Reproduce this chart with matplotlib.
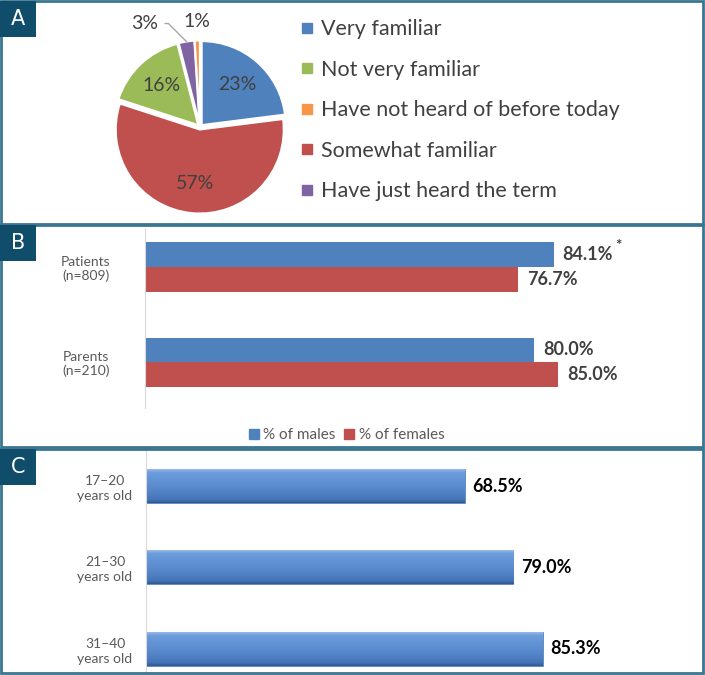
import matplotlib
matplotlib.use("Agg")
import matplotlib.pyplot as plt
import numpy as np
from matplotlib.patches import Rectangle
from matplotlib.lines import Line2D
from matplotlib.colors import LinearSegmentedColormap

plt.rcParams['font.family'] = ['Lato', 'DejaVu Sans']

# panel A: familiarity with the term (pie, clockwise from 12 o'clock)
pie_labels = ["Very familiar", "Somewhat familiar", "Not very familiar",
              "Have just heard the term", "Have not heard of before today"]
pie_values = [23, 57, 16, 3, 1]
pie_colors = ["#4f81bd", "#c0504d", "#9bbb59", "#8064a2", "#f79646"]
legend_order = [0, 2, 4, 1, 3]

# panel B: by sex
groups = ["Patients\n(n=809)", "Parents\n(n=210)"]
males = [84.1, 80.0]
females = [76.7, 85.0]
male_marks = ["*", ""]

# panel C: by age
age_groups = ["17–20\nyears old", "21–30\nyears old", "31–40\nyears old"]
age_values = [68.5, 79.0, 85.3]

W, H = 705, 675
GRAY = "#595959"
DARK = "#404040"
FRAME = "#3a7592"
TAB = "#104d6b"


def box(x, y, w, h):
    # pixel box (top-left origin) -> figure fraction
    return [x / W, 1 - (y + h) / H, w / W, h / H]


fig = plt.figure(figsize=(W / 100, H / 100), dpi=100)

# panel frames and letter tabs
for (y0, h), letter in zip([(1, 223), (225, 222), (449, 224)], "ABC"):
    fig.add_artist(Rectangle(box(1, y0, 702, h)[:2], 702 / W, h / H,
                             transform=fig.transFigure, fill=False,
                             ec=FRAME, lw=2))
    fig.add_artist(Rectangle(box(0, y0, 36, 36)[:2], 36 / W, 36 / H,
                             transform=fig.transFigure, fc=TAB, ec="none"))
    fig.text(18 / W, 1 - (y0 + 18) / H, letter, color="white", fontsize=15,
             ha="center", va="center", family=["Liberation Sans Narrow", "DejaVu Sans"])

# ---- A: pie ----
ax = fig.add_axes(box(100, 27, 200, 200))
wedges, texts, autotexts = ax.pie(
    pie_values, colors=pie_colors, startangle=90, counterclock=False,
    explode=[0.03] * len(pie_values),
    wedgeprops=dict(edgecolor="white", linewidth=1.5),
    autopct=lambda p: f"{p:.0f}%" if p > 5 else "", pctdistance=0.64,
    textprops=dict(color=DARK, fontsize=14))
lim = 100 / 84
ax.set_xlim(-lim, lim)
ax.set_ylim(-lim, lim)
ax.set_aspect("equal")

small_offsets = {3: (-42, 18), 4: (0, 19)}
for i, (xo, yo) in small_offsets.items():
    w = wedges[i]
    ang = np.deg2rad((w.theta1 + w.theta2) / 2)
    cx, cy = w.center
    xy = (cx + np.cos(ang), cy + np.sin(ang))
    arrow = None
    if i == 3:
        arrow = dict(arrowstyle="-", color="#a6a6a6", lw=1, shrinkA=3, shrinkB=0,
                     connectionstyle="angle,angleA=0,angleB=135,rad=0")
    ax.annotate(f"{pie_values[i]}%", xy=xy, xytext=(xo, yo),
                textcoords="offset pixels", ha="center", va="center",
                color=DARK, fontsize=14, annotation_clip=False,
                arrowprops=arrow)

handles = [Line2D([], [], marker="s", ls="", color=pie_colors[i], markersize=7)
           for i in legend_order]
fig.legend(handles, [pie_labels[i] for i in legend_order], loc="upper left",
           bbox_to_anchor=(281 / W, 1 - 0 / H), frameon=False, fontsize=15.5,
           labelcolor=DARK, handlelength=0.6, handletextpad=0.35,
           labelspacing=0.95)

# ---- B: by sex ----
axb = fig.add_axes(box(145, 229, 486, 179))
y = np.arange(len(groups))
bh = 0.258
bm = axb.barh(y - bh / 2, males, height=bh, color="#4f81bd")
bf = axb.barh(y + bh / 2, females, height=bh, color="#c0504d")
axb.set_xlim(0, 100)
axb.set_ylim(1.484, -0.4)
for bars, vals, marks in [(bm, males, male_marks), (bf, females, ["", ""])]:
    for b, v, m in zip(bars, vals, marks):
        yc = b.get_y() + b.get_height() / 2
        axb.annotate(f"{v:.1f}%", xy=(v, yc), xytext=(9, 0),
                     textcoords="offset pixels", va="center", ha="left",
                     fontsize=13, fontweight="bold", color=DARK)
        if m:
            axb.annotate(m, xy=(v, yc), xytext=(62, 9),
                         textcoords="offset pixels", va="center", ha="left",
                         fontsize=11, fontweight="bold", color=DARK)
axb.set_yticks(y)
axb.set_yticklabels(groups, fontsize=10, color=GRAY)
for lab in axb.get_yticklabels():
    lab.set_ha("center")
    lab.set_multialignment("center")
axb.tick_params(left=False, bottom=False, labelbottom=False, pad=39)
for s in ["top", "right", "bottom"]:
    axb.spines[s].set_visible(False)
axb.spines["left"].set_color("#d9d9d9")

hb = [Line2D([], [], marker="s", ls="", color=c, markersize=7)
      for c in ["#4f81bd", "#c0504d"]]
fig.legend(hb, ["% of males", "% of females"], loc="center",
           bbox_to_anchor=(347 / W, 1 - 435 / H), ncol=2, frameon=False,
           fontsize=11, labelcolor=GRAY, handlelength=0.6,
           handletextpad=0.3, columnspacing=0.6)

# ---- C: by age ----
axc = fig.add_axes(box(146, 450, 465, 223))
yc_pos = np.arange(len(age_groups))
ch = 0.42
bars_c = axc.barh(yc_pos, age_values, height=ch, color="#5688cc",
                  edgecolor="#4a78b5", lw=0.5)
cmap = LinearSegmentedColormap.from_list(
    "bev", [(0, "#a4c2ea"), (0.12, "#6c9ddc"), (0.6, "#5688cc"),
            (0.9, "#4676b8"), (1.0, "#2f5b94")])
grad = np.linspace(0, 1, 64).reshape(-1, 1)
for b in bars_c:
    x0, y0 = b.get_x(), b.get_y()
    im = axc.imshow(grad, extent=[x0, x0 + b.get_width(), y0 + b.get_height(), y0],
                    aspect="auto", cmap=cmap, origin="upper", zorder=2)
    im.set_clip_path(b)
for b, v in zip(bars_c, age_values):
    axc.annotate(f"{v:.1f}%", xy=(v, b.get_y() + b.get_height() / 2),
                 xytext=(8, 0), textcoords="offset pixels", va="center",
                 ha="left", fontsize=13, fontweight="bold", color="black")
axc.set_xlim(0, 100)
axc.set_ylim(2.30, -0.443)
axc.set_yticks(yc_pos)
axc.set_yticklabels(age_groups, fontsize=10, color=GRAY, linespacing=1.3)
for lab in axc.get_yticklabels():
    lab.set_ha("center")
    lab.set_multialignment("center")
axc.tick_params(left=False, bottom=False, labelbottom=False, pad=26)
for s in ["top", "right", "bottom"]:
    axc.spines[s].set_visible(False)
axc.spines["left"].set_color("#d9d9d9")

fig.savefig("out.png", dpi=100)
